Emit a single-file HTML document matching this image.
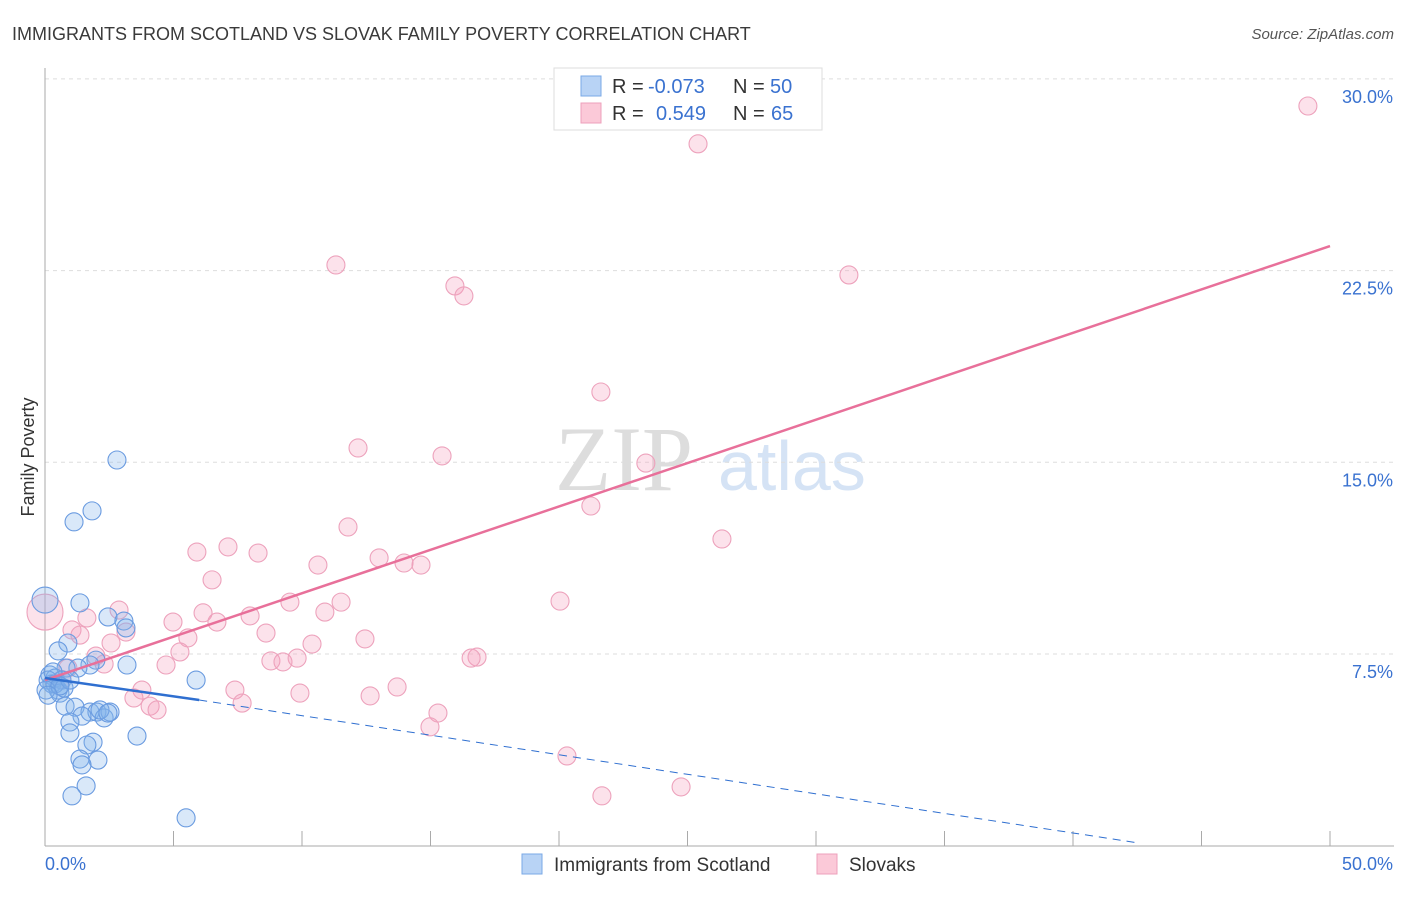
<!DOCTYPE html>
<html><head><meta charset="utf-8"><style>
body{margin:0;background:#fff;font-family:"Liberation Sans",sans-serif;}
</style></head><body>
<svg width="1406" height="892" xmlns="http://www.w3.org/2000/svg" font-family="Liberation Sans, sans-serif">
<text x="12" y="40" font-size="18" fill="#3a3a3a">IMMIGRANTS FROM SCOTLAND VS SLOVAK FAMILY POVERTY CORRELATION CHART</text>
<text x="1394" y="39" font-size="15" fill="#555" font-style="italic" text-anchor="end">Source: ZipAtlas.com</text>
<text x="555" y="490" font-size="92" fill="#ddd" font-family="Liberation Serif, serif">ZIP</text>
<text x="718" y="490" font-size="70" fill="#d5e3f5">atlas</text>
<text transform="translate(34,457) rotate(-90)" font-size="18" fill="#333" text-anchor="middle">Family Poverty</text>
<g id="grid"></g><g id="axes"></g><g id="pts"></g><g id="lines"></g>
<g>
<rect x="554" y="68" width="268" height="62" fill="#fff" stroke="#ddd"/>
<rect x="581" y="76" width="20" height="20" fill="#b8d3f5" stroke="#7aa8e6"/>
<rect x="581" y="103" width="20" height="20" fill="#fbc9d8" stroke="#eea0bb"/>
<text x="612" y="93" font-size="20" fill="#333">R =</text>
<text x="648" y="93" font-size="20" fill="#3a72d0">-0.073</text>
<text x="733" y="93" font-size="20" fill="#333">N =</text>
<text x="770" y="93" font-size="20" fill="#3a72d0">50</text>
<text x="612" y="120" font-size="20" fill="#333">R =</text>
<text x="656" y="120" font-size="20" fill="#3a72d0">0.549</text>
<text x="733" y="120" font-size="20" fill="#333">N =</text>
<text x="771" y="120" font-size="20" fill="#3a72d0">65</text>
</g>
<g>
<rect x="522" y="854" width="20" height="20" fill="#b8d3f5" stroke="#7aa8e6"/>
<text x="554" y="871" font-size="19" fill="#333">Immigrants from Scotland</text>
<rect x="817" y="854" width="20" height="20" fill="#fbc9d8" stroke="#eea0bb"/>
<text x="849" y="871" font-size="19" fill="#333">Slovaks</text>
</g>
</svg>
<script>
const blueX=[0,1.36,2.80,1.83,1.13,2.45,3.07,3.15,0.89,0.51,1.98,3.19,1.75,1.28,0.82,0.19,0.39,0.66,0.27,0.51,0.58,5.88,0.78,1.17,1.75,2.02,1.44,2.30,2.53,0.97,0.97,3.58,1.87,1.63,1.36,2.06,1.44,1.60,1.05,5.49,0.12,0.39,0.74,0.97,2.14,2.45,0.04,0.31,0.58,0.12];
const blueY=[9.61,9.50,15.09,13.10,12.67,8.95,8.79,8.52,7.93,7.62,7.26,7.07,7.07,6.95,6.95,6.68,6.56,6.48,6.33,6.09,5.97,6.48,5.46,5.42,5.23,5.23,5.07,5.00,5.23,4.84,4.41,4.29,4.05,3.94,3.39,3.35,3.16,2.34,1.95,1.09,6.48,6.33,6.17,6.48,5.31,5.19,6.09,6.80,6.25,5.89];
const pinkX=[49.14,25.41,11.32,15.95,16.30,31.28,21.63,12.18,15.45,23.38,21.24,11.79,26.34,7.12,5.91,8.29,13.00,13.97,14.63,10.62,6.50,0,20.04,9.53,11.52,2.88,1.63,6.15,7.98,4.98,6.69,10.89,1.05,1.36,3.15,8.60,12.45,5.56,10.39,2.57,5.25,1.98,8.79,2.30,9.26,9.81,16.81,16.58,4.71,0.89,3.77,7.39,9.92,13.70,12.65,3.46,4.09,4.36,7.67,15.29,14.98,20.31,21.67,24.75,0.66];
const pinkY=[28.94,27.46,22.72,21.90,21.51,22.33,17.75,15.56,15.25,14.97,13.29,12.47,12.00,11.69,11.49,11.45,11.26,11.06,10.98,10.98,10.40,9.14,9.57,9.53,9.53,9.22,8.91,9.11,8.99,8.75,8.75,9.14,8.44,8.24,8.36,8.32,8.09,8.13,7.89,7.93,7.58,7.42,7.23,7.11,7.19,7.34,7.38,7.34,7.07,6.95,6.09,6.09,5.97,6.21,5.86,5.78,5.46,5.31,5.58,5.19,4.65,3.51,1.95,2.30,6.50];
const yTicks=[7.5,15,22.5,30];
const yTickLabels=["7.5%","15.0%","22.5%","30.0%"];
const pinkTrend=[[0,6.48],[50,23.46]];
const blueTrendSolid=[[0,6.56],[6.0,5.70]];
const blueTrendDash=[[6.0,5.70],[42.6,0.1]];
const NS="http://www.w3.org/2000/svg";
const X=v=>45+v*25.7, Y=v=>845.7-v*25.56;
function mk(t,a,p){const e=document.createElementNS(NS,t);for(const k in a)e.setAttribute(k,a[k]);document.getElementById(p).appendChild(e);return e;}
yTicks.forEach((t,i)=>{
 const g=mk('line',{x1:45,x2:1394,y1:Y(t),y2:Y(t),stroke:'#ddd','stroke-dasharray':'4,4'},'grid');
 
 
 const l=mk('text',{x:1393,y:Y(t)+24,'font-size':18,fill:'#3a72d0','text-anchor':'end'},'axes');
 l.textContent=yTickLabels[i];
 
 
});
const ax=mk('line',{x1:45,x2:45,y1:68,y2:846,stroke:'#aaa'},'axes');


const bx=mk('line',{x1:45,x2:1394,y1:846,y2:846,stroke:'#aaa'},'axes');


for(let v=5;v<=50;v+=5){const t=mk('line',{x1:X(v),x2:X(v),y1:831,y2:846,stroke:'#aaa'},'axes');
 
 }
[["0.0%",45,'start'],["50.0%",1393,'end']].forEach(a=>{const t=mk('text',{x:a[1],y:870,'font-size':18,fill:'#3a72d0','text-anchor':a[2]},'axes');t.textContent=a[0];
 
 });
pinkX.forEach((x,i)=>{const r=(x===0)?18:9;const c=mk('circle',{cx:X(x),cy:Y(pinkY[i]),r:r,fill:'rgba(246,160,190,0.3)',stroke:'#eda2bc','stroke-width':1.1},'pts');
 
 });
blueX.forEach((x,i)=>{const r=(i===0)?13:9;const c=mk('circle',{cx:X(x),cy:Y(blueY[i]),r:r,fill:'rgba(130,180,235,0.3)',stroke:'#6a9be0','stroke-width':1.1},'pts');
 
 });
const l1=mk('line',{x1:X(pinkTrend[0][0]),y1:Y(pinkTrend[0][1]),x2:X(pinkTrend[1][0]),y2:Y(pinkTrend[1][1]),stroke:'#e8709a','stroke-width':2.5},'lines');


const l2=mk('line',{x1:X(blueTrendSolid[0][0]),y1:Y(blueTrendSolid[0][1]),x2:X(blueTrendSolid[1][0]),y2:Y(blueTrendSolid[1][1]),stroke:'#2f6fd0','stroke-width':2.5},'lines');


const l3=mk('line',{x1:X(blueTrendDash[0][0]),y1:Y(blueTrendDash[0][1]),x2:X(blueTrendDash[1][0]),y2:Y(blueTrendDash[1][1]),stroke:'#2f6fd0','stroke-width':1,'stroke-dasharray':'8,6'},'lines');


</script>
</body></html>
